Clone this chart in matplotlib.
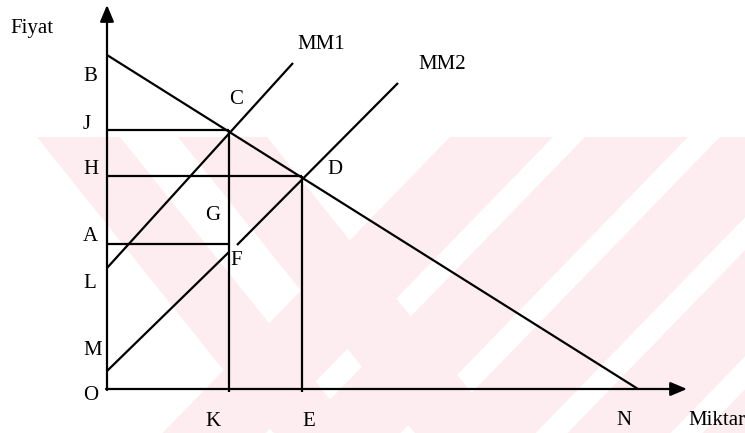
import matplotlib
matplotlib.use("Agg")
import matplotlib.pyplot as plt
from matplotlib.patches import Polygon

# Values (quantity / price units, origin at O)
q_K = 12.2
q_E = 19.5
q_N = 53.1
p_B = 33.4
p_J = 25.9
p_H = 21.3
p_A = 14.5
p_L = 12.1
p_M = 1.8

# demand line B-N
demand_q = [0, q_N]
demand_p = [p_B, 0]
# MM1 starts at L
mm1_q = [0, 18.6]
mm1_p = [p_L, 32.6]
# MM2 starts near M, broken around F in the original
mm2_low_q = [0, q_K]
mm2_low_p = [p_M, 13.7]
mm2_up_q = [13.0, 29.1]
mm2_up_p = [14.4, 30.6]

plt.rcParams["font.family"] = ["Liberation Serif", "DejaVu Serif"]
plt.rcParams["font.size"] = 15

W, H = 745, 433
fig = plt.figure(figsize=(W / 100, H / 100), dpi=100)

# Background axes in pixel units for the faint watermark stripes
bg = fig.add_axes([0, 0, 1, 1])
bg.set_xlim(0, W)
bg.set_ylim(H, 0)
bg.set_axis_off()
pink = "#fdedf0"
top = 137
drop_l = (H - top) / 1.25   # "\" bands
drop_r = (H - top) / 1.03   # "/" bands
for x0, x1 in [(37, 120), (178, 267)]:
    bg.add_patch(Polygon([(x0, top), (x1, top), (x1 + drop_l, H), (x0 + drop_l, H)],
                         closed=True, facecolor=pink, edgecolor="none"))
for x0, x1 in [(450, 553), (585, 688), (720, 823), (855, 958), (990, 1093)]:
    bg.add_patch(Polygon([(x0, top), (x1, top), (x1 - drop_r, H), (x0 - drop_r, H)],
                         closed=True, facecolor=pink, edgecolor="none"))

# Main diagram, 10 px per unit, origin at pixel (107, 389)
ax = fig.add_axes([107 / W, (H - 389) / H, (W - 107) / W, 389 / H])
ax.set_xlim(0, (W - 107) / 10)
ax.set_ylim(0, 38.9)
ax.set_axis_off()

lw = 1.6
kw = dict(color="black", lw=lw, clip_on=False, solid_capstyle="butt")

ax.plot(demand_q, demand_p, **kw)
ax.plot(mm1_q, mm1_p, **kw)
ax.plot(mm2_low_q, mm2_low_p, **kw)
ax.plot(mm2_up_q, mm2_up_p, **kw)

# guide lines
ax.plot([0, q_K], [p_J, p_J], **kw)
ax.plot([0, q_E], [p_H, p_H], **kw)
ax.plot([0, q_K], [p_A, p_A], **kw)
ax.plot([q_K, q_K], [-0.25, p_J], **kw)
ax.plot([q_E, q_E], [-0.25, p_H], **kw)

# axes with arrow heads
arrow = dict(arrowstyle="-|>,head_length=1.0,head_width=0.42", color="black",
             lw=lw, mutation_scale=10, shrinkA=0, shrinkB=0)
ax.annotate("", xy=(0, 38.4), xytext=(0, -0.1), arrowprops=arrow, annotation_clip=False)
ax.annotate("", xy=(58.0, 0), xytext=(-0.1, 0), arrowprops=arrow, annotation_clip=False)

labels = [
    ("Fiyat", -9.7, 35.6), ("MM1", 19.0, 34.0), ("MM2", 31.1, 32.0),
    ("B", -2.4, 30.8), ("C", 12.2, 28.5), ("J", -2.4, 26.0),
    ("H", -2.4, 21.5), ("D", 22.0, 21.5), ("G", 9.8, 16.9),
    ("A", -2.4, 14.8), ("F", 12.3, 12.4), ("L", -2.4, 10.1),
    ("M", -2.4, 3.4), ("O", -2.4, -1.1), ("K", 9.8, -3.7),
    ("E", 19.5, -3.7), ("N", 50.9, -3.6), ("Miktar", 58.1, -3.6),
]
for txt, x, y in labels:
    ax.text(x, y, txt, ha="left", va="baseline")

fig.savefig("out.png", dpi=100)
